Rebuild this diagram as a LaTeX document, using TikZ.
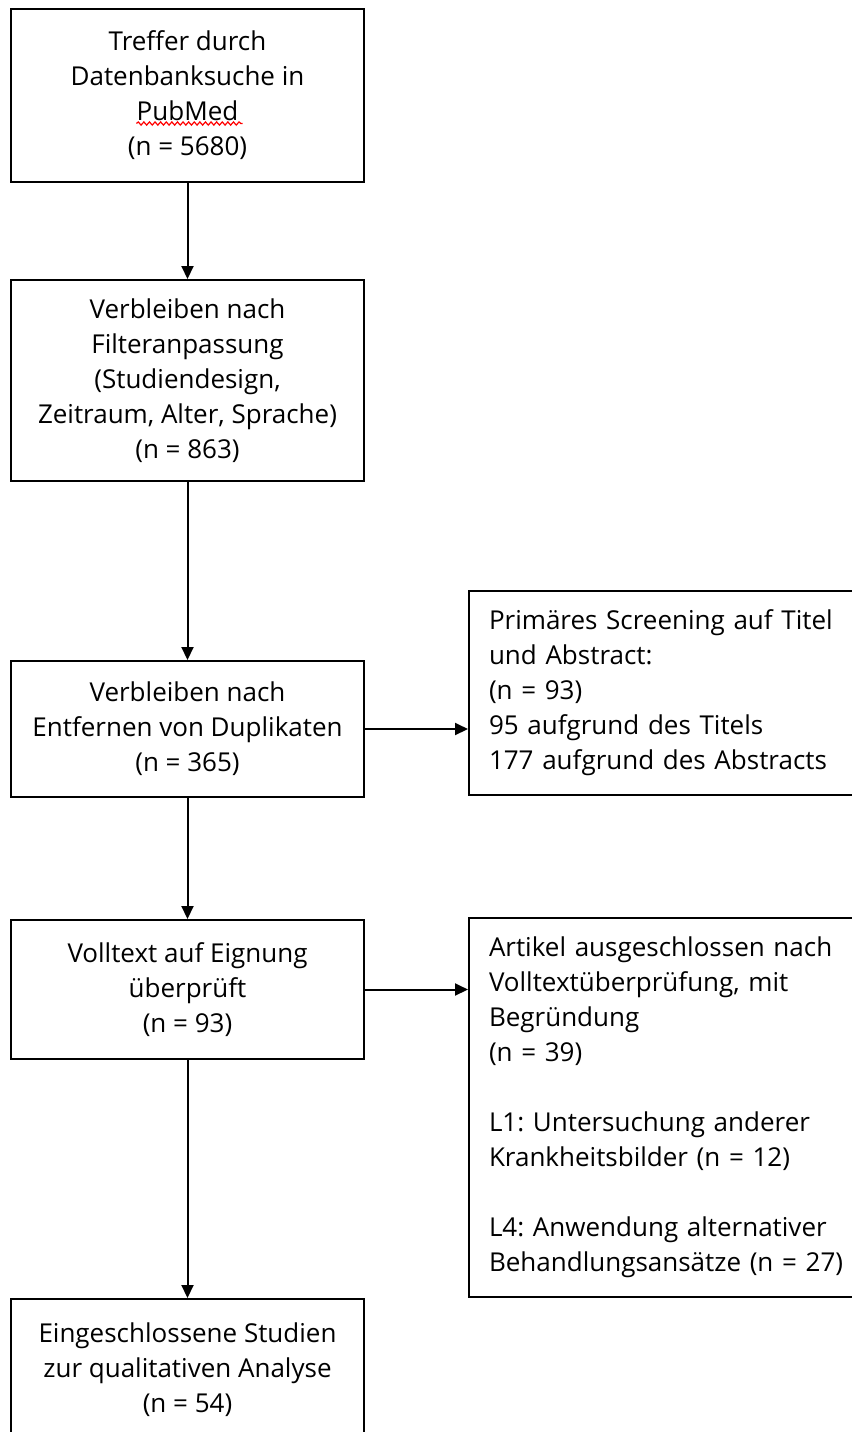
\documentclass[tikz,border=0pt]{standalone}
\usepackage{fontspec}
\setmainfont{Open Sans}
\usetikzlibrary{arrows.meta,positioning,decorations.pathmorphing}
\frenchspacing

\tikzset{
	block/.style = {
		draw, 
		rectangle, 
		minimum width=176.5pt, 
		line width=1pt, 
		align=center, 
		inner sep=0pt,
		font=\fontsize{13}{17.5}\selectfont
	},
	infobox/.style = {
		draw, 
		rectangle, 
		anchor=west,
		text width=190pt, 
		inner xsep=10pt,
		inner ysep=0pt,
		line width=1pt, 
		align=left, 
		font=\fontsize{13}{17.5}\selectfont
	},
	signal/.style = {
		-{Triangle[length=6.5pt,width=6pt]}, 
		line width=1pt
	},
	welle/.style = {
		red, 
		line width=0.6pt, 
		decorate, 
		decoration={snake, segment length=2.8pt, amplitude=0.8pt}
	}
}

\begin{document}
\begin{tikzpicture}[x=0.5pt, y=-0.5pt]
		
		\useasboundingbox (0,0) rectangle (852,1432);
		
		% --- Hauptspalte ---
		\node [block, minimum height=86.5pt] (treffer) at (187.5, 95.5)
		{Treffer durch\\ Datenbanksuche in\\ PubMed\\ (n = 5680)};
		
		\node [block, minimum height=100.5pt] (filter) at (187.5, 380.5)
		{Verbleiben nach\\ Filteranpassung\\ (Studiendesign,\\ Zeitraum, Alter, Sprache)\\ (n = 863)};
		
		\node [block, minimum height=68pt] (duplikate) at (187.5, 729)
		{Verbleiben nach\\ Entfernen von Duplikaten\\ (n = 365)};
		
		\node [block, minimum height=69.5pt] (volltext) at (187.5, 989.5)
		{Volltext auf Eignung\\ überprüft\\ (n = 93)};
		
		\node [block, minimum height=71pt] (eingeschlossen) at (187.5, 1370)
		{Eingeschlossene Studien\\ zur qualitativen Analyse\\ (n = 54)};
		
		% --- Ausschluss-Kästen rechts ---
		\node [infobox, minimum height=102pt] (screening) at (468, 693)
		{Primäres Screening auf Titel\\ und Abstract:\\ (n = 93)\\ 95 aufgrund des Titels\\ 177 aufgrund des Abstracts};
		
		\node [infobox, minimum height=189.5pt] (ausschluss) at (468, 1107.5)
		{Artikel ausgeschlossen nach\\ Volltextüberprüfung, mit\\ Begründung\\ (n = 39)\\[17.5pt]
		L1: Untersuchung anderer\\ Krankheitsbilder (n = 12)\\[17.5pt]
		L4: Anwendung alternativer\\ Behandlungsansätze (n = 27)};
		
		% --- Pfeile ---
		\draw [signal] (treffer) -- (filter);
		\draw [signal] (filter) -- (duplikate);
		\draw [signal] (duplikate) -- (volltext);
		\draw [signal] (volltext) -- (eingeschlossen);
		
		\draw [signal] (duplikate.east) -- (duplikate.east -| screening.west);
		\draw [signal] (volltext.east) -- (volltext.east -| ausschluss.west);
		
		% rote Wellenlinie unter "PubMed"
		\coordinate (welleA) at ([xshift=-25.5pt, yshift=-14pt] treffer.center);
		\coordinate (welleB) at ([xshift=27.5pt, yshift=-14pt] treffer.center);
		\draw [welle] (welleA) -- (welleB);
		
\end{tikzpicture}
\end{document}
